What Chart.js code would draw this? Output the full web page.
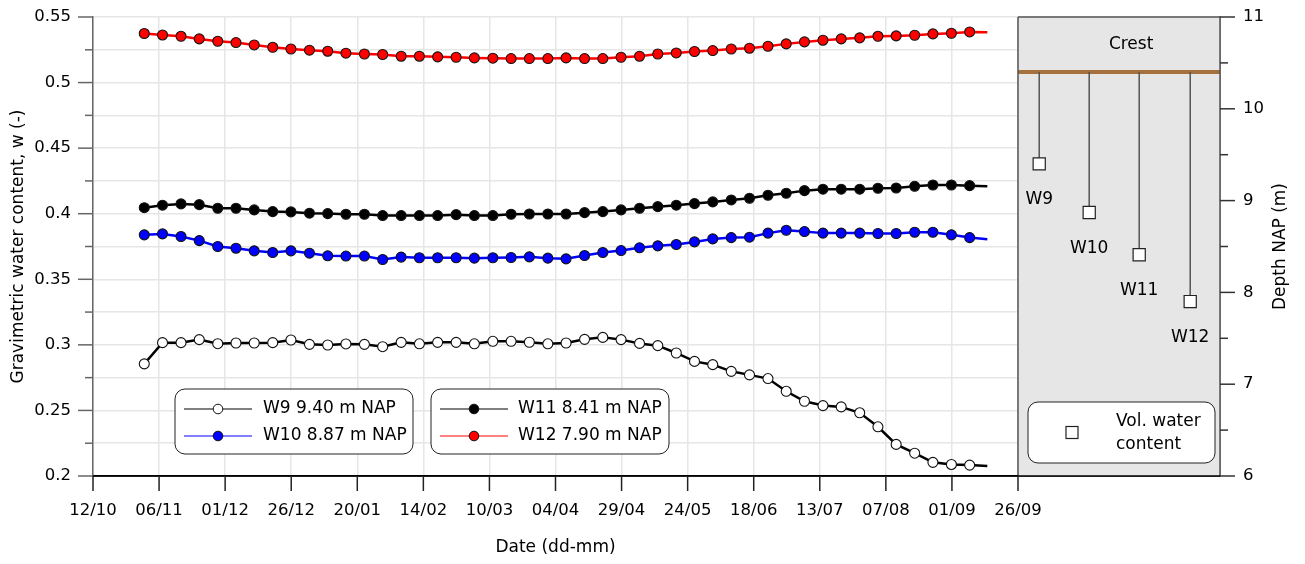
<!DOCTYPE html>
<html lang="en">
<head>
<meta charset="UTF-8">
<title>Gravimetric water content</title>
<style>
    html, body { margin: 0; padding: 0; background: #fff; }
    #wrap { width: 1305px; height: 564px; }
</style>
</head>
<body>
<div id="wrap"><canvas id="chart" width="1305" height="564"></canvas></div>

<script src="https://cdn.jsdelivr.net/npm/chart.js@4.4.1/dist/chart.umd.min.js"></script>
<script>
// measurement days, counted from 12/10
const sampleDays = [19.4, 26.3, 33.3, 40.2, 47.2, 54.1, 61.0, 68.0, 74.9, 81.9,
    88.8, 95.7, 102.7, 109.6, 116.6, 123.5, 130.4, 137.4, 144.3, 151.3,
    158.2, 165.1, 172.1, 179.0, 186.0, 192.9, 199.8, 206.8, 213.7, 220.7,
    227.6, 234.5, 241.5, 248.4, 255.4, 262.3, 269.2, 276.2, 283.1, 290.1,
    297.0, 303.9, 310.9, 317.8, 324.8, 331.7];

const w9 = [0.2855, 0.3017, 0.3017, 0.3040, 0.3009, 0.3014, 0.3014, 0.3017, 0.3037, 0.3004,
    0.2999, 0.3007, 0.3004, 0.2986, 0.3019, 0.3008, 0.3019, 0.3019, 0.3008, 0.3027,
    0.3027, 0.3020, 0.3008, 0.3014, 0.3042, 0.3057, 0.3040, 0.3011, 0.2994, 0.2938,
    0.2874, 0.2849, 0.2798, 0.2771, 0.2743, 0.2646, 0.2570, 0.2537, 0.2527, 0.2482,
    0.2375, 0.2241, 0.2174, 0.2104, 0.2088, 0.2083];
const w10 = [0.3839, 0.3846, 0.3826, 0.3795, 0.3750, 0.3737, 0.3717, 0.3704, 0.3717, 0.3699,
    0.3679, 0.3677, 0.3677, 0.3651, 0.3669, 0.3664, 0.3664, 0.3664, 0.3661, 0.3664,
    0.3666, 0.3671, 0.3661, 0.3656, 0.3681, 0.3704, 0.3719, 0.3740, 0.3755, 0.3765,
    0.3785, 0.3808, 0.3818, 0.3821, 0.3852, 0.3874, 0.3864, 0.3852, 0.3852, 0.3852,
    0.3849, 0.3849, 0.3859, 0.3859, 0.3839, 0.3818];
const w11 = [0.4046, 0.4065, 0.4075, 0.4069, 0.4042, 0.4042, 0.4029, 0.4016, 0.4014, 0.4004,
    0.4001, 0.3996, 0.3996, 0.3986, 0.3986, 0.3986, 0.3986, 0.3993, 0.3986, 0.3986,
    0.3996, 0.3998, 0.3998, 0.3998, 0.4008, 0.4016, 0.4029, 0.4042, 0.4054, 0.4065,
    0.4077, 0.4090, 0.4105, 0.4118, 0.4141, 0.4156, 0.4176, 0.4187, 0.4187, 0.4187,
    0.4194, 0.4196, 0.4209, 0.4219, 0.4219, 0.4214];
const w12 = [0.5374, 0.5363, 0.5353, 0.5333, 0.5315, 0.5305, 0.5287, 0.5269, 0.5256, 0.5247,
    0.5239, 0.5224, 0.5218, 0.5214, 0.5201, 0.5201, 0.5196, 0.5193, 0.5188, 0.5186,
    0.5183, 0.5183, 0.5183, 0.5188, 0.5183, 0.5183, 0.5193, 0.5201, 0.5218, 0.5226,
    0.5237, 0.5244, 0.5256, 0.5262, 0.5277, 0.5295, 0.5310, 0.5323, 0.5333, 0.5341,
    0.5353, 0.5356, 0.5361, 0.5371, 0.5376, 0.5386];

// logged lines run on a bit after the last marker
const lineEndDay = 338.4;
const lineEndValues = [0.2076, 0.3806, 0.4209, 0.5384];

const seriesNames = ["W9 9.40 m NAP", "W10 8.87 m NAP", "W11 8.41 m NAP", "W12 7.90 m NAP"];

const xTickLabels = ["12/10", "06/11", "01/12", "26/12", "20/01", "14/02", "10/03", "04/04",
    "29/04", "24/05", "18/06", "13/07", "07/08", "01/09", "26/09"];
const xTickStep = 25;

// crest panel
const sensorNames = ["W9", "W10", "W11", "W12"];
const sensorDepth = [9.40, 8.87, 8.41, 7.90];
const sensorPos = [0.42, 1.41, 2.40, 3.41];
const crestLevel = 10.4;

// ---------- styling / layout ----------
const FONT = "'DejaVu Sans', Verdana, sans-serif";
const TXT = "#000";
const GRID = "#e6e6e6";
const BROWN = "#a86f3e";
const NONE = "rgba(0,0,0,0)";
const seriesLine = ["#000000", "#0000ff", "#000000", "#ff0000"];
const seriesFill = ["#ffffff", "#0000ff", "#000000", "#ff0000"];

const X_MAIN_MAX = 350;            // 26/09, edge of the crest panel
const PANEL_FRAC = 202 / 1127;     // share of the plot width used by the panel
const xMax = X_MAIN_MAX / (1 - PANEL_FRAC);
const x2Min = 4 - 4 / PANEL_FRAC;

const isMajorY = (v) => Math.round(v * 1000) % 50 === 0;

const mainSets = [w9, w10, w11, w12].map((vals, s) => ({
    label: seriesNames[s],
    data: sampleDays.map((d, i) => ({ x: d, y: vals[i] })).concat([{ x: lineEndDay, y: lineEndValues[s] }]),
    xAxisID: "x",
    yAxisID: "y",
    showLine: true,
    borderColor: seriesLine[s],
    borderWidth: 2.5,
    pointRadius: (ctx) => (ctx.dataIndex < sampleDays.length ? 5 : 0),
    pointBackgroundColor: seriesFill[s],
    pointBorderColor: "#111",
    pointBorderWidth: 1.1,
    tension: 0,
    order: 1
}));

const crestSet = {
    label: "crest",
    data: [{ x: 0, y: crestLevel }, { x: 4, y: crestLevel }],
    xAxisID: "x2",
    yAxisID: "y2",
    showLine: true,
    borderColor: BROWN,
    borderWidth: 4,
    pointRadius: 0,
    order: 3
};

const sensorSets = sensorPos.map((p, i) => ({
    label: sensorNames[i],
    data: [{ x: p, y: crestLevel }, { x: p, y: sensorDepth[i] }],
    xAxisID: "x2",
    yAxisID: "y2",
    showLine: true,
    borderColor: "#555",
    borderWidth: 1.5,
    pointStyle: "rect",
    pointRadius: (ctx) => (ctx.dataIndex === 1 ? 8.6 : 0),
    pointBackgroundColor: "#fff",
    pointBorderColor: "#222",
    pointBorderWidth: 1.2,
    order: 2
}));

function roundBox(ctx, x, y, w, h, r) {
    ctx.beginPath();
    ctx.moveTo(x + r, y);
    ctx.arcTo(x + w, y, x + w, y + h, r);
    ctx.arcTo(x + w, y + h, x, y + h, r);
    ctx.arcTo(x, y + h, x, y, r);
    ctx.arcTo(x, y, x + w, y, r);
    ctx.closePath();
    ctx.fillStyle = "#fff";
    ctx.fill();
    ctx.strokeStyle = "#222";
    ctx.lineWidth = 1;
    ctx.stroke();
}

function seg(ctx, x0, y0, x1, y1, color, w) {
    ctx.beginPath();
    ctx.moveTo(x0, y0);
    ctx.lineTo(x1, y1);
    ctx.strokeStyle = color;
    ctx.lineWidth = w;
    ctx.stroke();
}

// legend boxes of the water content series (pixel layout)
const legendBoxes = [
    { x: 175, y: 389, w: 238, h: 65, lineX: [184, 252], markX: 218, textX: 263, series: [0, 1] },
    { x: 431, y: 389, w: 238, h: 65, lineX: [440, 508], markX: 474, textX: 518, series: [2, 3] }
];
const legendRows = [409, 436];

const panelPlugin = {
    id: "crestPanel",
    beforeDatasetsDraw(chart) {
        const { ctx, chartArea: a, scales } = chart;
        const left = scales.x.getPixelForValue(X_MAIN_MAX);
        ctx.save();
        ctx.fillStyle = "#e6e6e6";
        ctx.fillRect(left, a.top, a.right - left, a.bottom - a.top);
        ctx.restore();
    },
    afterDatasetsDraw(chart) {
        const { ctx, chartArea: a, scales } = chart;
        const left = scales.x.getPixelForValue(X_MAIN_MAX);
        ctx.save();
        seg(ctx, left, a.top, left, a.bottom, "#555", 1.5);
        seg(ctx, left, a.top, a.right, a.top, "#555", 1.5);
        seg(ctx, a.right, a.top, a.right, a.bottom, "#555", 1.5);
        seg(ctx, a.left, a.bottom, a.right, a.bottom, "#000", 1.5);
        ctx.restore();
    },
    afterDraw(chart) {
        const { ctx, chartArea: a, scales } = chart;
        const { x, y, x2, y2 } = scales;
        ctx.save();

        // visible tick marks (major and minor lengths differ)
        y.ticks.forEach((t) => {
            const py = y.getPixelForValue(t.value);
            seg(ctx, a.left - (isMajorY(t.value) ? 15 : 8), py, a.left, py, "#666", 1.5);
        });
        x.ticks.forEach((t) => {
            const px = x.getPixelForValue(t.value);
            seg(ctx, px, a.bottom, px, a.bottom + 15, "#222", 1.5);
        });
        y2.ticks.forEach((t) => {
            const py = y2.getPixelForValue(t.value);
            seg(ctx, a.right, py, a.right + (Number.isInteger(t.value) ? 15 : 8), py, "#333", 1.5);
        });

        ctx.fillStyle = TXT;
        ctx.font = "17px " + FONT;
        ctx.textAlign = "center";
        ctx.textBaseline = "middle";

        // x title, centred on the date part of the axis
        ctx.fillText("Date (dd-mm)", (x.getPixelForValue(0) + x.getPixelForValue(X_MAIN_MAX)) / 2, 548);

        // right axis title, reading upwards
        ctx.save();
        ctx.translate(1281, (a.top + a.bottom) / 2);
        ctx.rotate(-Math.PI / 2);
        ctx.fillText("Depth NAP (m)", 0, 0);
        ctx.restore();

        // crest panel texts
        ctx.fillText("Crest", x2.getPixelForValue(2.24), y2.getPixelForValue(10.7));
        sensorNames.forEach((n, i) => {
            ctx.fillText(n, x2.getPixelForValue(sensorPos[i]), y2.getPixelForValue(sensorDepth[i] - 0.39));
        });

        // series legends
        legendBoxes.forEach((b) => {
            roundBox(ctx, b.x, b.y, b.w, b.h, 10);
            b.series.forEach((s, r) => {
                const ry = legendRows[r];
                seg(ctx, b.lineX[0], ry, b.lineX[1], ry, seriesLine[s], 1);
                ctx.beginPath();
                ctx.arc(b.markX, ry, 4.8, 0, Math.PI * 2);
                ctx.fillStyle = seriesFill[s];
                ctx.fill();
                ctx.strokeStyle = "#111";
                ctx.lineWidth = 1;
                ctx.stroke();
                ctx.fillStyle = TXT;
                ctx.textAlign = "left";
                ctx.fillText(seriesNames[s], b.textX, ry);
            });
        });

        // volumetric sensor legend
        roundBox(ctx, 1028, 402, 187, 61, 10);
        ctx.fillStyle = "#fff";
        ctx.fillRect(1066, 426.5, 12, 12);
        ctx.strokeStyle = "#222";
        ctx.lineWidth = 1.2;
        ctx.strokeRect(1066, 426.5, 12, 12);
        ctx.fillStyle = TXT;
        ctx.textAlign = "left";
        ctx.fillText("Vol. water", 1116, 422);
        ctx.fillText("content", 1116, 445);

        ctx.restore();
    }
};

new Chart(document.getElementById("chart"), {
    type: "scatter",
    data: { datasets: mainSets.concat(sensorSets, [crestSet]) },
    options: {
        responsive: false,
        animation: false,
        devicePixelRatio: 1,
        layout: { padding: { top: 17, left: 0, right: 0, bottom: 0 } },
        plugins: {
            legend: { display: false },
            tooltip: { enabled: false }
        },
        scales: {
            x: {
                type: "linear",
                position: "bottom",
                min: 0,
                max: xMax,
                afterBuildTicks: (s) => {
                    s.ticks = xTickLabels.map((_, i) => ({ value: i * xTickStep }));
                },
                ticks: {
                    autoSkip: false,
                    maxRotation: 0,
                    padding: 0,
                    color: TXT,
                    font: { family: FONT, size: 16.5 },
                    callback: (v, i) => xTickLabels[i]
                },
                // invisible native ticks only reserve the gap before the labels
                grid: { color: GRID, lineWidth: 1.5, drawTicks: true, tickLength: 25, tickColor: NONE },
                border: { color: "#000", width: 1.5 },
                afterFit: (s) => { s.height = 88; }
            },
            x2: {
                type: "linear",
                display: false,
                min: x2Min,
                max: 4
            },
            y: {
                type: "linear",
                position: "left",
                min: 0.2,
                max: 0.55,
                ticks: {
                    stepSize: 0.025,
                    padding: 0,
                    color: TXT,
                    font: { family: FONT, size: 16.5 },
                    callback: (v) => (isMajorY(v) ? String(Math.round(v * 100) / 100) : "")
                },
                grid: { color: GRID, lineWidth: 1.5, drawTicks: true, tickLength: 22, tickColor: NONE },
                border: { color: "#666", width: 1.5 },
                title: {
                    display: true,
                    text: "Gravimetric water content, w (-)",
                    color: TXT,
                    font: { family: FONT, size: 17 },
                    padding: { top: 8, bottom: 0 }
                },
                afterFit: (s) => { s.width = 93; }
            },
            y2: {
                type: "linear",
                position: "right",
                min: 6,
                max: 11,
                ticks: {
                    stepSize: 0.5,
                    padding: 0,
                    color: TXT,
                    font: { family: FONT, size: 16.5 },
                    callback: (v) => (Number.isInteger(v) ? String(v) : "")
                },
                grid: { display: true, drawOnChartArea: false, drawTicks: true, tickLength: 23, tickColor: NONE },
                border: { color: "#555", width: 1.5 },
                afterFit: (s) => { s.width = 85; }
            }
        }
    },
    plugins: [panelPlugin]
});
</script>
</body>
</html>
